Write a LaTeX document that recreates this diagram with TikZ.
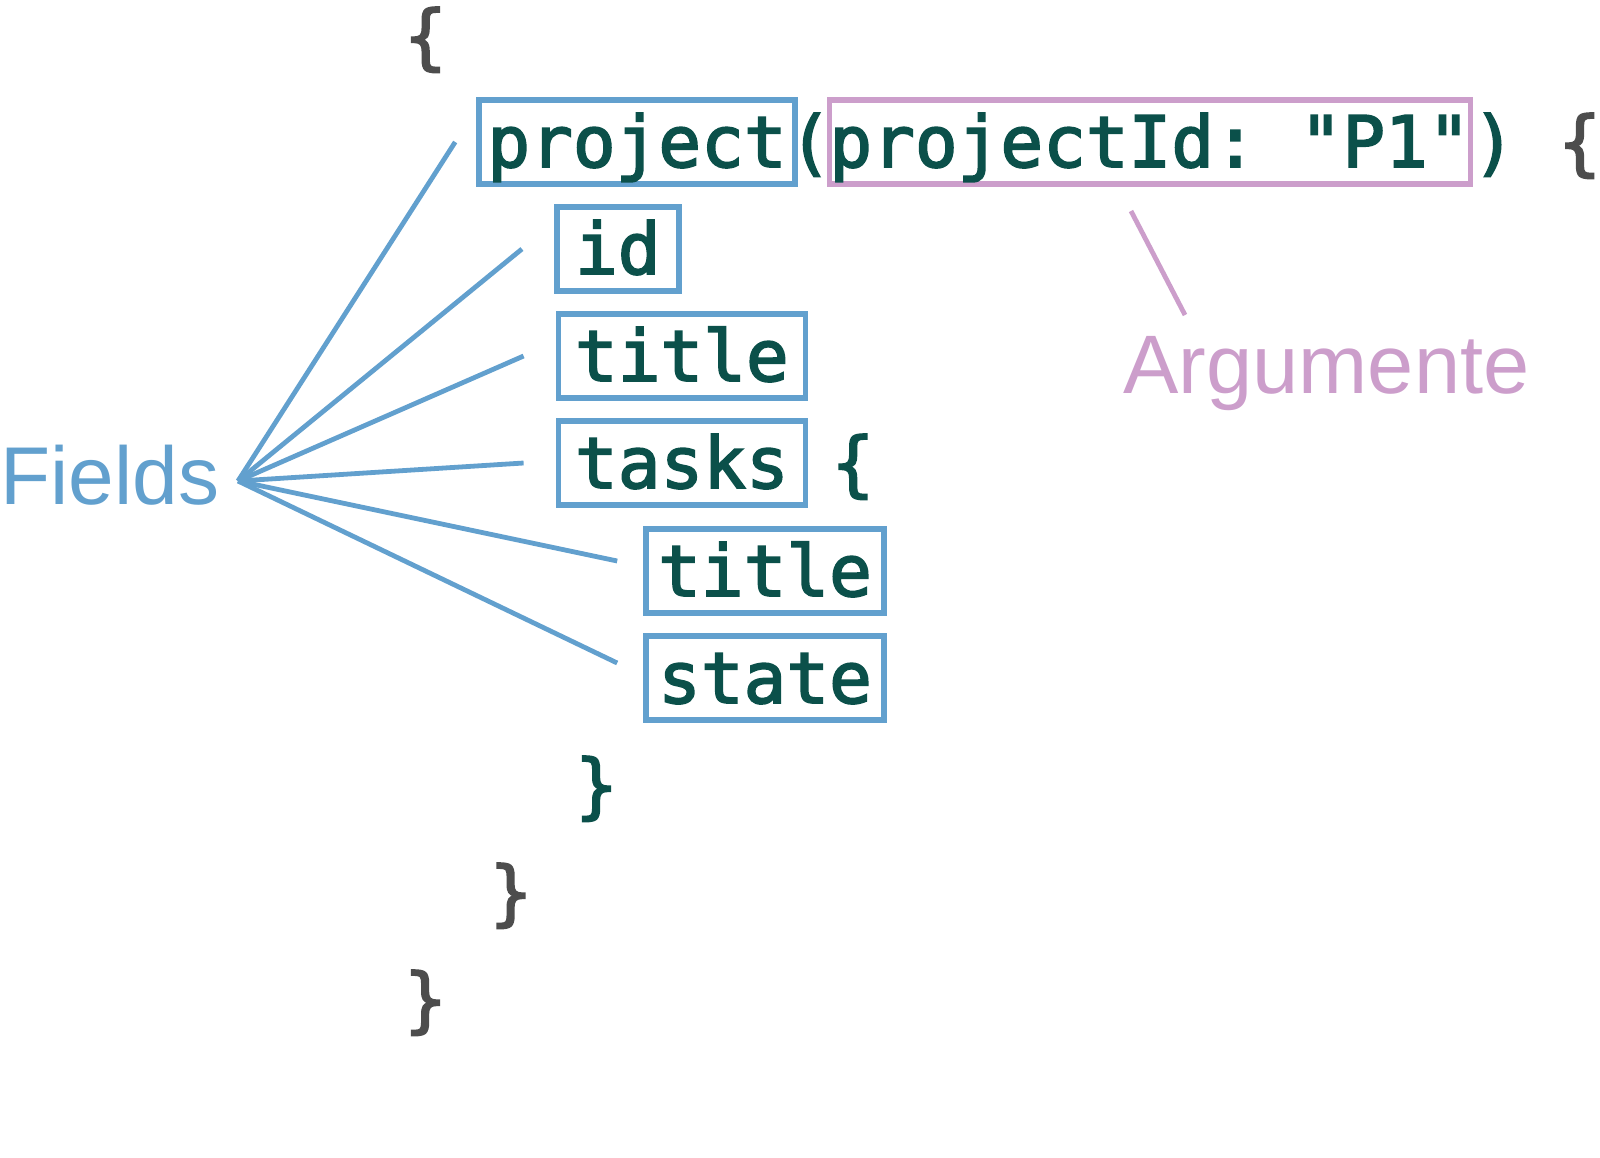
\documentclass[tikz,border=0pt]{standalone}
\usepackage{fontspec}
\newfontfamily\codefont[FakeBold=2.5]{DejaVu Sans Mono}
\newfontfamily\labelfont{Liberation Sans}
\usepackage{xcolor}
\usetikzlibrary{positioning}
\definecolor{codegreen}{HTML}{0B504A}
\definecolor{bracegrey}{HTML}{4D4D4D}
\definecolor{fieldblue}{HTML}{62A0CE}
\definecolor{argpink}{HTML}{CC9ECB}
\tikzset{
    codetxt/.style={anchor=base,inner sep=0pt,text=codegreen,font=\codefont\frenchspacing\fontsize{35.5}{40}\selectfont},
    bracetxt/.style={codetxt,text=bracegrey},
    fieldbox/.style={codetxt,draw=fieldblue,line width=2.8pt,text height=33.5pt,text depth=8.5pt},
    argbox/.style={fieldbox,draw=argpink},
    sidenote/.style={inner sep=0pt,anchor=base west,font=\labelfont\fontsize{41}{48}\selectfont},
}

\begin{document}
\begin{tikzpicture}[x=0.5pt,y=-0.5pt,link/.style={line width=2.4pt,color=fieldblue}]
                \useasboundingbox (0,0) rectangle (1600,1157);
                % query
                \node[bracetxt] (open) at (425.4,61) {\{};
                \node[fieldbox,minimum width=158pt] (proj) at (637,167) {project};
                \node[codetxt] (lpar) at (810.2,167) {(};
                \node[argbox,minimum width=320.5pt] (args) at (1150,167) {projectId: "P1"};
                \node[codetxt] (rpar) at (1494,167) {)};
                \node[bracetxt] (projopen) at (1579.7,167) {\{};
                \node[fieldbox,minimum width=61pt] (id) at (617.75,274) {id};
                \node[fieldbox,minimum width=123.5pt] (title) at (681.9,381) {title};
                \node[fieldbox,minimum width=123.5pt] (tasks) at (681.9,488) {tasks};
                \node[codetxt] (tasksopen) at (852.9,488) {\{};
                \node[fieldbox,minimum width=119pt] (ttitle) at (765,596) {title};
                \node[fieldbox,minimum width=119pt] (tstate) at (765,703) {state};
                \node[codetxt] (tasksclose) at (596.4,810) {\}};
                \node[bracetxt] (projclose) at (510.9,917) {\}};
                \node[bracetxt] (close) at (425.4,1024) {\}};

                % labels
                \node[sidenote,text=fieldblue] (fields) at (0,504) {Fields};
                \node[sidenote,text=argpink,font=\labelfont\fontsize{41.5}{50}\selectfont] (argument) at (1123,393) {Argumente};

                \coordinate (hub) at (238,481);
                \coordinate (projend) at ([xshift=-10.5pt]proj.west);
                \coordinate (idend) at ([xshift=-16pt]id.west);
                \coordinate (titleend) at ([xshift=-16pt]title.west);
                \coordinate (tasksend) at ([xshift=-16pt]tasks.west);
                \coordinate (ttitleend) at ([shift={(-13pt,5pt)}]ttitle.west);
                \coordinate (tstateend) at ([shift={(-13pt,7.5pt)}]tstate.west);
                \coordinate (argtip) at (1131,211);
                \coordinate (argfoot) at (1185,315);

                \path[link]
                    (hub) edge (projend)
                    (hub) edge (idend)
                    (hub) edge (titleend)
                    (hub) edge (tasksend)
                    (hub) edge (ttitleend)
                    (hub) edge (tstateend)
                    ;
                \draw[link,color=argpink] (argtip) -- (argfoot);
            \end{tikzpicture}
\end{document}
